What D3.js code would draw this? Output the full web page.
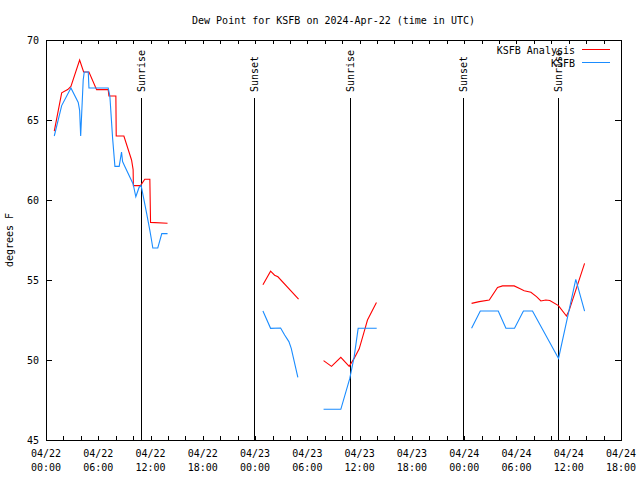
<!DOCTYPE html>
<html><head><meta charset="utf-8">
<script src="https://cdn.jsdelivr.net/npm/d3@7"></script>
<style>
body{margin:0;background:#fff}
svg{display:block}
text{font-family:"DejaVu Sans Mono","Liberation Mono",monospace;font-size:10px;fill:#000}
</style>
</head><body>
<svg id="c" width="640" height="480"></svg>
<script>
// Hours after 2024-04-22 00:00 UTC; null marks a data gap
const analysisHours = [0.95,1.8,2.49,2.86,3.86,4.32,4.93,5.81,7.14,7.22,8.02,8.06,8.94,9.82,10.0,10.03,10.85,11.34,11.92,12.0,13.95,
  null,
  24.9,25.78,26.24,26.62,28.99,
  null,
  31.86,32.77,33.84,34.8,35.37,35.95,36.52,36.9,37.93,
  null,
  48.85,49.73,50.88,51.83,52.4,53.74,54.31,54.89,55.66,56.3,56.8,57.37,57.83,58.82,59.74,60.05,61.82];
const analysisValues = [64.3,66.7,66.9,67.1,68.75,68.0,68.0,66.9,66.9,66.5,66.5,64.0,64.0,62.5,61.9,60.9,60.9,61.3,61.3,58.6,58.55,
  null,
  54.7,55.55,55.3,55.2,53.8,
  null,
  49.96,49.6,50.17,49.6,50.1,50.7,51.77,52.5,53.6,
  null,
  53.54,53.65,53.75,54.54,54.63,54.63,54.48,54.33,54.23,53.96,53.69,53.75,53.72,53.4,52.75,53.1,56.04];

const obsHours = [0.95,1.8,2.86,3.7,3.86,3.98,4.27,4.39,4.85,4.93,7.14,7.33,7.64,7.91,8.4,8.67,8.79,9.05,10.0,10.31,10.69,10.92,11.54,11.92,12.11,12.26,12.83,13.29,13.95,
  null,
  24.9,25.78,26.93,27.39,27.88,28.15,28.91,
  null,
  31.86,33.84,34.87,35.37,35.83,37.96,
  null,
  48.85,49.85,51.91,52.79,53.78,54.8,55.84,58.83,60.81,61.82];
const obsValues = [64.0,65.9,67.0,66.1,65.6,64.0,67.5,68.0,68.0,67.0,67.0,66.5,63.9,62.1,62.1,63.0,62.4,62.1,61.0,60.2,60.8,60.9,59.2,58.1,57.5,57.0,57.0,57.9,57.9,
  null,
  53.06,51.98,52.0,51.56,51.15,50.73,48.92,
  null,
  46.92,46.92,48.85,50.2,51.98,51.98,
  null,
  51.98,53.06,53.06,51.98,51.98,53.06,53.06,50.1,55.04,53.06];

const sunriseHours = [10.92, 34.87, 58.82];
const sunsetHours = [23.87, 47.82];

const xTickHours = [0,6,12,18,24,30,36,42,48,54,60,66];
const xTickLabels = [["04/22","00:00"],["04/22","06:00"],["04/22","12:00"],["04/22","18:00"],
  ["04/23","00:00"],["04/23","06:00"],["04/23","12:00"],["04/23","18:00"],
  ["04/24","00:00"],["04/24","06:00"],["04/24","12:00"],["04/24","18:00"]];
const xMinorHours = [2,4,8,10,14,16,20,22,26,28,32,34,38,40,44,46,50,52,56,58,62,64];
const yTicks = [45,50,55,60,65,70];

const seriesNames = ["KSFB Analysis","KSFB"];
const seriesColors = ["#ff0000","#1a8cff"];

const base = Date.UTC(2024,3,22);
const toDate = h => new Date(base + h*3600e3);

const L = 46, R = 621, T = 40, B = 440;
const svg = d3.select("#c");
const x = d3.scaleUtc().domain([toDate(0), toDate(66)]).range([L, R]);
const y = d3.scaleLinear().domain([45,70]).range([B, T]);

// Title
svg.append("text").attr("x", (L+R)/2).attr("y", 24).attr("text-anchor","middle")
  .text("Dew Point for KSFB on 2024-Apr-22 (time in UTC)");

// Y title
svg.append("text").attr("transform","translate(13,240) rotate(-90)").attr("text-anchor","middle")
  .text("degrees F");

// x ticks (inward, bottom and top)
const allX = xTickHours.concat(xMinorHours);
const tg = svg.append("g").attr("stroke","#000").attr("shape-rendering","crispEdges");
allX.forEach(h => {
  const px = Math.round(x(toDate(h))) + 0.5;
  tg.append("line").attr("x1",px).attr("x2",px).attr("y1",B).attr("y2",B-4);
  tg.append("line").attr("x1",px).attr("x2",px).attr("y1",T).attr("y2",T+4);
});
yTicks.forEach(v => {
  const py = Math.round(y(v)) + 0.5;
  tg.append("line").attr("x1",L).attr("x2",L+6).attr("y1",py).attr("y2",py);
  tg.append("line").attr("x1",R).attr("x2",R-6).attr("y1",py).attr("y2",py);
});

// x tick labels
xTickHours.forEach((h,i) => {
  const t = svg.append("text").attr("text-anchor","middle");
  t.append("tspan").attr("x", x(toDate(h))).attr("y", 457).text(xTickLabels[i][0]);
  t.append("tspan").attr("x", x(toDate(h))).attr("y", 471).text(xTickLabels[i][1]);
});
// y tick labels
yTicks.forEach(v => {
  svg.append("text").attr("x", 39).attr("y", y(v)+4).attr("text-anchor","end").text(v);
});

// Sunrise / sunset markers
const marks = sunriseHours.map(h => ({h, label:"Sunrise"})).concat(sunsetHours.map(h => ({h, label:"Sunset"})));
marks.forEach(m => {
  const px = Math.round(x(toDate(m.h))) + 0.5;
  svg.append("line").attr("x1",px).attr("x2",px).attr("y1",98).attr("y2",B)
    .attr("stroke","#000").attr("shape-rendering","crispEdges");
  svg.append("text").attr("transform",`translate(${px},92) rotate(-90)`)
    .attr("dy","0.35em").attr("text-anchor","start").text(m.label);
});

// Data lines
function draw(hours, values, color){
  const pts = hours.map((h,i) => ({h, v: values[i]}));
  const line = d3.line().defined(d => d.h != null && d.v != null)
    .x(d => x(toDate(d.h))).y(d => y(d.v));
  svg.append("path").datum(pts).attr("d", line).attr("fill","none")
    .attr("stroke", color).attr("stroke-width", 1.1);
}
draw(analysisHours, analysisValues, seriesColors[0]);
draw(obsHours, obsValues, seriesColors[1]);

// Frame
svg.append("rect").attr("x",L+0.5).attr("y",T+0.5).attr("width",R-L).attr("height",B-T)
  .attr("fill","none").attr("stroke","#000").attr("shape-rendering","crispEdges");

// Legend
seriesNames.forEach((n,i) => {
  const ly = 50 + i*12.5;
  svg.append("text").attr("x",575).attr("y",ly+4).attr("text-anchor","end").text(n);
  svg.append("line").attr("x1",582).attr("x2",610).attr("y1",ly-0.5).attr("y2",ly-0.5)
    .attr("stroke",seriesColors[i]).attr("shape-rendering","crispEdges");
});
</script>
</body></html>
